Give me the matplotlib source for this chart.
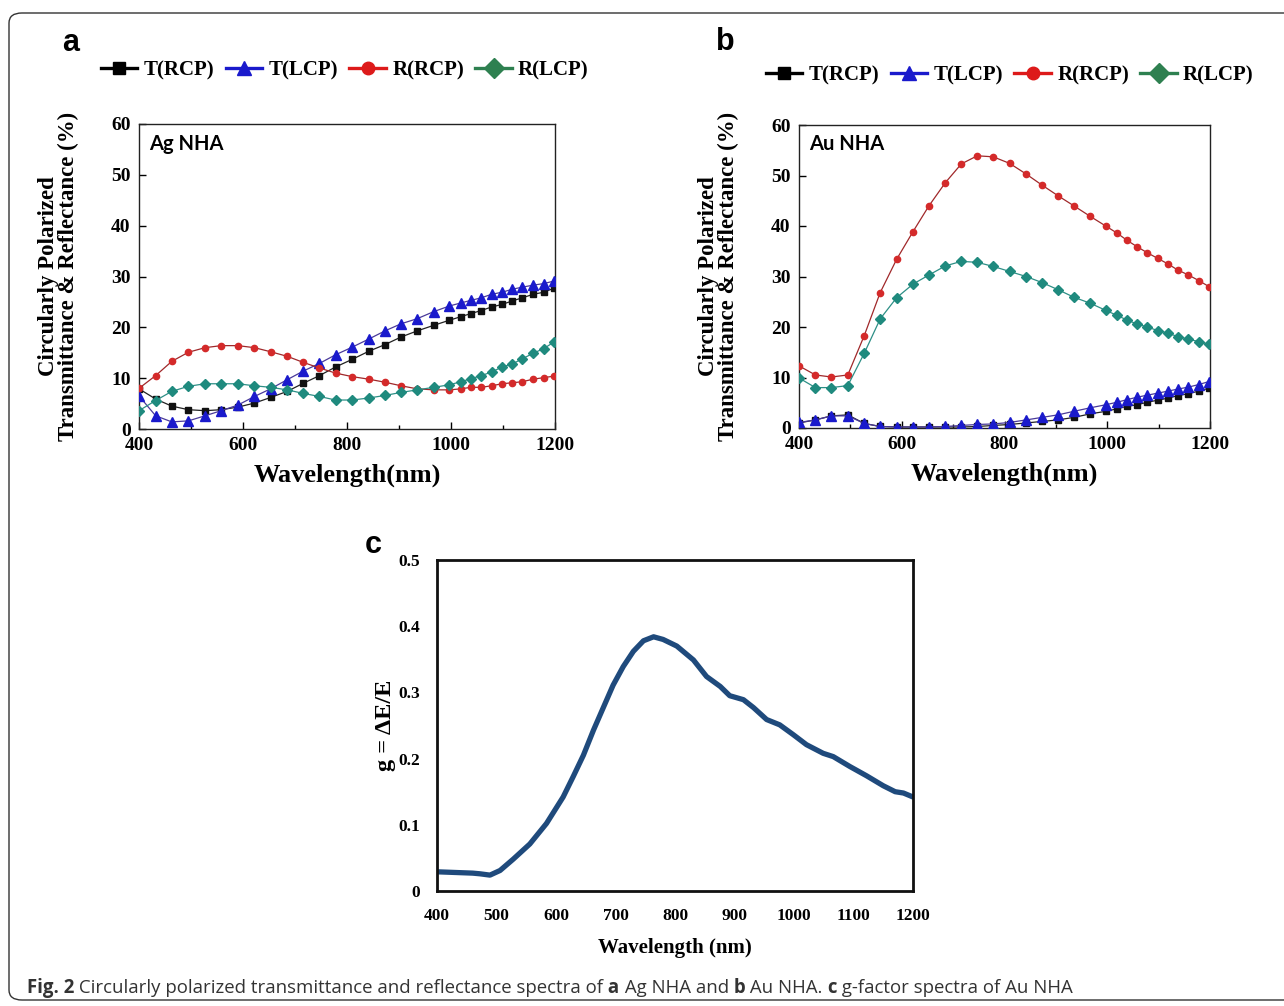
import matplotlib
matplotlib.use("Agg")
import matplotlib.pyplot as plt
from matplotlib.lines import Line2D
from matplotlib.patches import FancyBboxPatch
from matplotlib.ticker import MultipleLocator

# ---- data ----
wl = [400, 432, 463, 495, 527, 558, 590, 622, 653, 685, 716, 747, 778, 810, 842,
      873, 904, 935, 967, 997, 1019, 1038, 1058, 1078, 1098, 1118, 1137, 1158, 1178, 1198]

# panel a : Ag NHA
t_rcp_a = [7.9, 5.9, 4.5, 3.8, 3.6, 3.8, 4.3, 5.1, 6.2, 7.4, 9.0, 10.5, 12.2, 13.7, 15.3,
           16.6, 18.1, 19.3, 20.4, 21.4, 22.1, 22.7, 23.3, 24.0, 24.5, 25.2, 25.8, 26.5, 26.9, 27.7]
t_lcp_a = [6.5, 2.6, 1.4, 1.6, 2.6, 3.6, 4.7, 6.4, 7.9, 9.7, 11.4, 12.9, 14.6, 16.1, 17.7,
           19.3, 20.7, 21.7, 23.1, 24.2, 24.8, 25.3, 25.8, 26.5, 26.9, 27.5, 27.9, 28.3, 28.6, 29.1]
r_rcp_a = [8.0, 10.5, 13.3, 15.1, 16.0, 16.4, 16.4, 16.0, 15.2, 14.3, 13.1, 12.0, 11.0, 10.3, 9.8,
           9.2, 8.5, 7.9, 7.7, 7.7, 7.9, 8.2, 8.2, 8.5, 8.9, 9.1, 9.3, 9.8, 10.1, 10.4]
r_lcp_a = [3.6, 5.6, 7.4, 8.4, 8.9, 8.9, 8.9, 8.5, 8.2, 7.7, 7.0, 6.4, 5.7, 5.7, 6.1,
           6.6, 7.2, 7.7, 8.2, 8.7, 9.3, 9.9, 10.5, 11.2, 12.2, 12.8, 13.8, 14.9, 15.8, 17.1]

# panel b : Au NHA
t_rcp_b = [1.0, 1.6, 2.4, 2.6, 0.9, 0.3, 0.2, 0.2, 0.2, 0.2, 0.2, 0.3, 0.5, 0.7, 1.0,
           1.3, 1.6, 2.1, 2.8, 3.3, 3.8, 4.3, 4.6, 5.1, 5.5, 5.9, 6.4, 6.8, 7.3, 7.9]
t_lcp_b = [1.1, 1.6, 2.4, 2.4, 0.9, 0.3, 0.2, 0.2, 0.2, 0.3, 0.5, 0.7, 0.8, 1.1, 1.6,
           2.1, 2.6, 3.3, 4.0, 4.6, 5.1, 5.6, 6.1, 6.5, 6.9, 7.3, 7.7, 8.1, 8.6, 9.2]
r_rcp_b = [12.3, 10.5, 10.1, 10.5, 18.3, 26.8, 33.4, 38.9, 44.0, 48.6, 52.3, 53.9, 53.7, 52.4, 50.3,
           48.1, 46.0, 44.0, 41.9, 40.0, 38.6, 37.2, 35.9, 34.7, 33.6, 32.5, 31.3, 30.3, 29.2, 28.0]
r_lcp_b = [9.9, 8.0, 8.0, 8.4, 14.8, 21.6, 25.8, 28.5, 30.3, 32.1, 33.0, 32.8, 32.0, 31.0, 30.0,
           28.8, 27.4, 25.9, 24.7, 23.3, 22.3, 21.4, 20.6, 20.0, 19.3, 18.8, 18.1, 17.6, 17.1, 16.6]

# panel c : g-factor
wl_c = [400, 430, 460, 472, 489, 506, 528, 556, 584, 612, 629, 646, 663, 679, 696, 713, 730,
        747, 764, 780, 803, 831, 853, 876, 892, 915, 932, 954, 976, 999, 1021, 1049, 1066,
        1094, 1122, 1150, 1170, 1184, 1200]
g_c = [0.029, 0.028, 0.027, 0.026, 0.024, 0.031, 0.048, 0.071, 0.102, 0.142, 0.173, 0.205,
       0.243, 0.276, 0.311, 0.339, 0.362, 0.378, 0.384, 0.380, 0.370, 0.349, 0.324, 0.309,
       0.295, 0.289, 0.277, 0.259, 0.251, 0.236, 0.221, 0.208, 0.203, 0.188, 0.174, 0.159,
       0.150, 0.148, 0.142]

labels = ["T(RCP)", "T(LCP)", "R(RCP)", "R(LCP)"]
xticks_ab = [400, 600, 800, 1000, 1200]
yticks_ab = [0, 10, 20, 30, 40, 50, 60]
xticks_c = [400, 500, 600, 700, 800, 900, 1000, 1100, 1200]
yticks_c = [0, 0.1, 0.2, 0.3, 0.4, 0.5]

SERIF = "Liberation Serif"
SANS = "Liberation Sans"

# style per series: marker, marker colour, line colour, marker size
styles = [("s", "#111111", "#222222", 4.5),
          ("^", "#1a1acc", "#4a3a9a", 6.5),
          ("o", "#d42a2a", "#a0282a", 4.5),
          ("D", "#1f8a7e", "#2d8f86", 5.5)]
legend_cols = ["#000000", "#1a1acc", "#dd1a1a", "#2e8050"]

fig = plt.figure(figsize=(12.84, 10.06), dpi=100)
W, H = 1284, 1006


def ax_at(l, t, r, b):
    return fig.add_axes([l / W, 1 - b / H, (r - l) / W, (b - t) / H])


def spectra_panel(ax, series, name):
    for ys, (m, mc, lc, ms) in zip(series, styles):
        ax.plot(wl, ys, color=lc, lw=0.9, marker=m, ms=ms, mfc=mc, mec=mc, clip_on=True, zorder=3)
    ax.set_xlim(400, 1200)
    ax.set_ylim(0, 60)
    ax.set_xticks(xticks_ab)
    ax.set_yticks(yticks_ab)
    ax.xaxis.set_minor_locator(MultipleLocator(100))
    ax.tick_params(which="both", direction="in", top=False, right=False)
    ax.tick_params(which="major", length=5, width=1, pad=6)
    ax.tick_params(which="minor", length=3, width=1)
    for lab in ax.get_xticklabels() + ax.get_yticklabels():
        lab.set_fontfamily(SERIF)
        lab.set_fontweight("bold")
        lab.set_fontsize(14)
    for sp in ax.spines.values():
        sp.set_linewidth(1.0)
        sp.set_color("#222222")
    ax.set_xlabel("Wavelength(nm)", fontfamily=SERIF, fontweight="bold", fontsize=19, labelpad=7)
    ax.set_ylabel("Circularly Polarized\nTransmittance & Reflectance (%)", fontfamily=SERIF,
                  fontweight="bold", fontsize=16.5, linespacing=0.95, labelpad=23)
    ax.text(0.025, 0.936, name, transform=ax.transAxes, fontfamily="Lato", fontweight="bold",
            fontsize=14.5, ha="left", va="center")


def legend_at(x0, yc):
    handles = [Line2D([], [], color=c, lw=2.4, marker=m, ms=10 if m in "^D" else 9, mfc=c, mec=c)
               for (m, _, _, _), c in zip(styles, legend_cols)]
    fig.legend(handles, labels, loc="center left", bbox_to_anchor=(x0 / W, 1 - yc / H), ncol=4,
               frameon=False, borderpad=0, borderaxespad=0, handlelength=1.75, handletextpad=0.3,
               columnspacing=0.55, prop={"family": SERIF, "weight": "bold", "size": 15})


ax_a = ax_at(139, 124, 555, 429)
spectra_panel(ax_a, [t_rcp_a, t_lcp_a, r_rcp_a, r_lcp_a], "Ag NHA")
legend_at(101, 70)

ax_b = ax_at(799, 125, 1210, 428)
spectra_panel(ax_b, [t_rcp_b, t_lcp_b, r_rcp_b, r_lcp_b], "Au NHA")
legend_at(766, 75)

ax_c = ax_at(437, 560, 913, 891)
ax_c.plot(wl_c, g_c, color="#1f4a7c", lw=3.8, solid_capstyle="round", solid_joinstyle="round")
ax_c.set_xlim(400, 1200)
ax_c.set_ylim(0, 0.5)
ax_c.set_xticks(xticks_c)
ax_c.set_yticks(yticks_c)
ax_c.set_yticklabels(["0", "0.1", "0.2", "0.3", "0.4", "0.5"])
ax_c.tick_params(length=0, pad=12)
for lab in ax_c.get_xticklabels() + ax_c.get_yticklabels():
    lab.set_fontfamily(SERIF)
    lab.set_fontweight("bold")
    lab.set_fontsize(12.5)
for sp in ax_c.spines.values():
    sp.set_linewidth(2.0)
    sp.set_color("#111111")
ax_c.set_xlabel("Wavelength (nm)", fontfamily=SERIF, fontweight="bold", fontsize=15, labelpad=10)
ax_c.set_ylabel("g = ΔE/E", fontfamily=SERIF, fontweight="bold", fontsize=17.5, labelpad=2)

# panel letters
for s, x, y in [("a", 71, 43), ("b", 725, 42), ("c", 373, 545)]:
    fig.text(x / W, 1 - y / H, s, fontfamily=SANS, fontweight="bold", fontsize=22,
             ha="center", va="center")

# frame round the whole figure
frame = FancyBboxPatch((9 / W, 6 / H), 1.05, 1 - 19 / H, boxstyle="round,pad=0,rounding_size=0.01",
                       transform=fig.transFigure, fill=False, ec="#333333", lw=1.0, clip_on=False)
fig.patches.append(frame)

# caption with bold pieces
pieces = [("Fig. 2", "bold"),
          (" Circularly polarized transmittance and reflectance spectra of", "normal"),
          (" a", "bold"), (" Ag NHA and", "normal"), (" b", "bold"), (" Au NHA.", "normal"),
          (" c", "bold"), (" g-factor spectra of Au NHA", "normal")]
renderer = fig.canvas.get_renderer()
x = 27 / W
for txt, wt in pieces:
    t = fig.text(x, 1 - 988 / H, txt, fontfamily="Open Sans",
                 fontweight=wt, fontsize=13.4, color="#333333", ha="left", va="center")
    bb = t.get_window_extent(renderer)
    x += bb.width / W

fig.savefig("out.png", dpi=100)
